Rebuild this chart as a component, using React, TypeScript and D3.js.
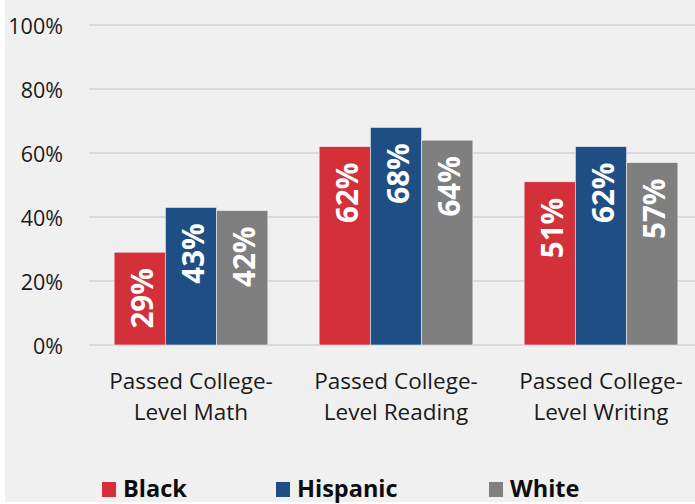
import React from "react";
import * as d3 from "d3";

const categories = [
  ["Passed College-", "Level Math"],
  ["Passed College-", "Level Reading"],
  ["Passed College-", "Level Writing"],
];
const seriesNames = ["Black", "Hispanic", "White"];
const black = [29, 62, 51];
const hispanic = [43, 68, 62];
const white = [42, 64, 57];
const yTicks = [0, 20, 40, 60, 80, 100];
const colors = ["#d3303a", "#1f4e85", "#7f7f7f"];

const W = 695;
const H = 504;
const FONT = "'Open Sans', 'Noto Sans', sans-serif";

export default function App() {
  const series = [black, hispanic, white];
  const y = d3.scaleLinear().domain([0, 100]).range([345, 25]);
  const x0 = d3
    .scaleBand<number>()
    .domain(d3.range(categories.length))
    .range([88.5, 703.5])
    .paddingInner(0.25)
    .paddingOuter(0.125);
  const x1 = d3
    .scaleBand<number>()
    .domain(d3.range(seriesNames.length))
    .range([0, x0.bandwidth()]);

  const legendX = [102, 276, 489];

  return (
    <svg
      width={W}
      height={H}
      style={{ position: "absolute", left: 0, top: 0, display: "block" }}
      fontFamily={FONT}
    >
      <rect x={0} y={0} width={W} height={H} fill="#ffffff" />
      <rect x={5} y={0} width={W - 5} height={H - 2} fill="#f0f0f0" />
      {yTicks.map((t) => (
        <g key={t}>
          <line x1={89} x2={W} y1={y(t)} y2={y(t)} stroke="#d9d9d9" strokeWidth={2} />
          <text
            x={63}
            y={y(t)}
            textAnchor="end"
            dominantBaseline="central"
            fontSize={21.5}
            fill="#1a1a1a"
          >
            {t}%
          </text>
        </g>
      ))}
      {categories.map((cat, ci) => (
        <g key={ci} transform={`translate(${x0(ci)},0)`}>
          {series.map((vals, si) => {
            const v = vals[ci];
            const bx = x1(si)!;
            const bw = x1.bandwidth();
            const cx = bx + bw / 2;
            const top = y(v);
            return (
              <g key={si}>
                <rect
                  x={bx}
                  y={top}
                  width={bw}
                  height={y(0) - top}
                  fill={colors[si]}
                  stroke="#f0f0f0"
                  strokeWidth={0.6}
                />
                <text
                  transform={`translate(${cx + 1.5},${top + 16}) rotate(-90)`}
                  textAnchor="end"
                  dominantBaseline="central"
                  fill="#ffffff"
                  fontWeight="bold"
                  fontSize={29.5}
                >
                  {v}%
                </text>
              </g>
            );
          })}
          {cat.map((line, li) => (
            <text
              key={li}
              x={x0.bandwidth() / 2}
              y={389 + li * 31}
              textAnchor="middle"
              fontSize={22.5}
              fill="#1a1a1a"
            >
              {line}
            </text>
          ))}
        </g>
      ))}
      {seriesNames.map((name, i) => (
        <g key={name}>
          <rect x={legendX[i]} y={482} width={14} height={15} fill={colors[i]} />
          <text
            x={legendX[i] + 21}
            y={496.5}
            fontSize={23.5}
            fontWeight="bold"
            fill="#0d0d0d"
          >
            {name}
          </text>
        </g>
      ))}
    </svg>
  );
}
